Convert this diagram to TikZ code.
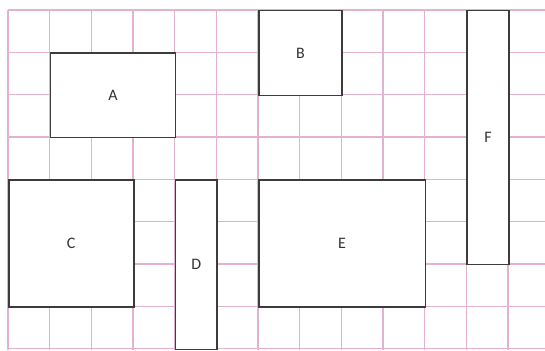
\documentclass[tikz,border=0pt]{standalone}
\usepackage{fontspec}
\setmainfont{Carlito}
\definecolor{gridpink}{RGB}{226,178,206}
\definecolor{boxgray}{RGB}{60,60,60}
\newcommand\gridbox[6]{%
  \fill[white] ({8+41.67*#2},{10+42.33*#3}) rectangle ({8+41.67*#4},{10+42.33*#5});
  \node[boxst, anchor=north west,
        minimum width={41.67*(#4-#2)}, minimum height={42.33*(#5-#3)}]
        (#1) at ({8+41.67*#2},{10+42.33*#3}) {#6};}
\begin{document}
\begin{tikzpicture}[x=1pt,y=-1pt,
  gridline/.style={draw=gridpink, line width=1.2pt},
  boxst/.style={draw=boxgray, fill=white, line width=1.5pt, inner sep=0pt,
                font=\fontsize{16}{18}\selectfont, text=black!80}]
\useasboundingbox (0,0) rectangle (545,350);
\fill[white] (0,0) rectangle (545,350);
\foreach \i in {0,...,12} \draw[gridline] ({8+41.67*\i},10) -- ({8+41.67*\i},350);
\foreach \j in {0,...,8} \draw[gridline] (8,{10+42.33*\j}) -- (545,{10+42.33*\j});
\gridbox{A}{1}{1}{4}{3}{A}
\gridbox{B}{6}{0}{8}{2}{B}
\gridbox{C}{0}{4}{3}{7}{C}
\gridbox{D}{4}{4}{5}{8}{D}
\gridbox{E}{6}{4}{10}{7}{E}
\gridbox{F}{11}{0}{12}{6}{F}
\end{tikzpicture}
\end{document}
